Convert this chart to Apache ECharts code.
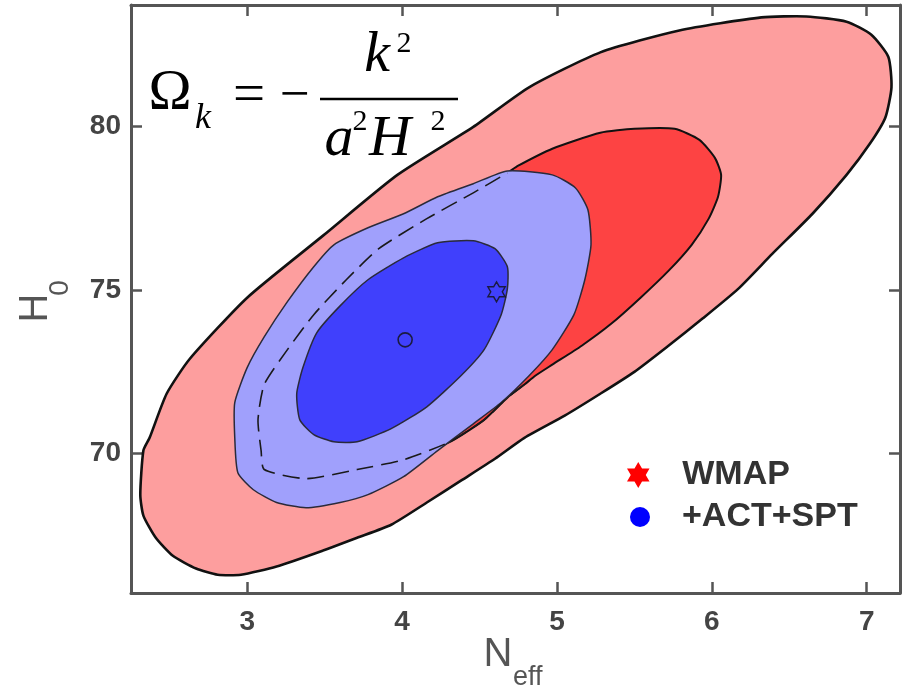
<!DOCTYPE html>
<html><head><meta charset="utf-8">
<script src="https://cdn.jsdelivr.net/npm/echarts@6/dist/echarts.min.js"></script>
<style>html,body{margin:0;padding:0;background:#fff}#c{width:904px;height:688px}</style>
</head><body><div id="c"></div>
<script>
// ---- data (N_eff, H0) ----
const xTickValues = [3, 4, 5, 6, 7];
const yTickValues = [70, 75, 80];
const xExtent = [2.25, 7.215];
const yExtent = [65.72, 83.72];

// WMAP 95% contour (outer pink)
const wmap2Sigma = [
  [2.33,70.08],[2.37,70.47],[2.48,71.82],[2.63,72.89],[3.00,74.76],[3.49,76.66],[3.97,78.52],
  [4.46,79.99],[4.82,81.20],[5.28,82.27],[5.79,82.94],[6.32,83.34],[6.61,83.37],[6.87,83.21],
  [7.03,82.81],[7.14,82.13],[7.16,81.20],[7.12,80.27],[7.02,79.47],[6.87,78.52],[6.65,77.33],
  [6.39,76.10],[6.17,75.03],[5.94,74.12],[5.72,73.29],[5.50,72.49],[5.28,71.82],[5.05,71.15],
  [4.79,70.47],[4.60,69.83],[4.38,69.16],[4.16,68.49],[3.93,67.81],[3.71,67.41],[3.49,67.02],
  [3.19,66.53],[2.96,66.28],[2.81,66.28],[2.67,66.47],[2.52,66.86],[2.41,67.41],[2.33,68.09],
  [2.31,68.73]
];
// WMAP 68% contour (red); points from index 17 on lie under the ACT+SPT region (dashed)
const wmap1Sigma = [
  [4.75,78.80],[4.97,79.32],[5.28,79.81],[5.50,79.93],[5.76,79.93],[5.92,79.59],[6.02,79.04],
  [6.06,78.52],[6.04,77.85],[5.98,77.18],[5.87,76.38],[5.72,75.58],[5.54,74.76],[5.35,73.96],
  [5.16,73.29],[4.97,72.71],[4.86,72.37],
  [4.79,72.10],[4.68,71.70],[4.53,71.02],[4.31,70.35],[4.01,69.80],[3.71,69.50],[3.38,69.22],
  [3.11,69.50],[3.09,70.08],[3.07,71.02],[3.11,72.10],[3.26,73.17],[3.43,74.24],[3.64,75.31],
  [3.85,76.26],[4.16,77.18],[4.46,77.97],[4.68,78.58]
];
const hiddenStart = 17;
// WMAP+ACT+SPT 95% contour (light blue)
const act2Sigma = [
  [4.68,78.64],[4.97,78.52],[5.12,78.12],[5.20,77.45],[5.22,76.38],[5.18,75.31],[5.11,74.24],
  [4.97,73.17],[4.82,72.37],[4.64,71.55],[4.46,70.90],[4.23,70.08],[4.01,69.28],[3.78,68.73],
  [3.60,68.49],[3.38,68.33],[3.19,68.49],[3.04,68.88],[2.94,69.40],[2.92,70.47],[2.92,71.55],
  [3.00,72.62],[3.11,73.56],[3.26,74.64],[3.43,75.71],[3.56,76.38],[3.78,76.90],[4.01,77.33],
  [4.23,77.85],[4.46,78.25]
];
// WMAP+ACT+SPT 68% contour (dark blue)
const act1Sigma = [
  [4.46,76.50],[4.60,76.26],[4.68,75.71],[4.68,75.03],[4.64,74.24],[4.53,73.17],[4.38,72.37],
  [4.16,71.42],[3.93,70.75],[3.71,70.35],[3.56,70.35],[3.43,70.57],[3.34,71.02],[3.32,71.82],
  [3.36,72.62],[3.45,73.69],[3.60,74.51],[3.78,75.31],[4.01,75.98],[4.23,76.44]
];
const wmapBest = [[4.61, 74.94]];
const actBest = [[4.02, 73.47]];

// ---- chart ----
const hexPath = 'path://M0,-10 L2.887,-5 L8.660,-5 L5.774,0 L8.660,5 L2.887,5 L0,10 L-2.887,5 L-8.660,5 L-5.774,0 L-8.660,-5 L-2.887,-5 Z';
const SANS = '"Liberation Sans", Arial, sans-serif';
const NARROW = '"Liberation Sans Narrow", "Liberation Sans", Arial, sans-serif';
const SERIF = '"Liberation Serif", "Times New Roman", serif';

function polygonSeries(name, pts, fill, stroke, lw) {
  return {
    type: 'custom', name: name, coordinateSystem: 'cartesian2d', silent: true,
    data: [pts[0]],
    renderItem: function (params, api) {
      return { type: 'polygon',
        shape: { points: pts.map(p => api.coord(p)), smooth: 0.2 },
        style: { fill: fill, stroke: stroke, lineWidth: lw } };
    }
  };
}
function dashedSeries(name, pts) {
  return {
    type: 'custom', name: name, coordinateSystem: 'cartesian2d', silent: true,
    data: [pts[0]],
    renderItem: function (params, api) {
      return { type: 'polyline',
        shape: { points: pts.map(p => api.coord(p)), smooth: 0.2 },
        style: { fill: null, stroke: '#1a1a1a', lineWidth: 1.6, lineDash: [17, 8] } };
    }
  };
}

const axisLine = { show: true, lineStyle: { color: '#555', width: 3 } };
const axisTick = { show: true, inside: true, length: 11, lineStyle: { color: '#555', width: 2.5 } };
const labelStyle = { fontSize: 28, fontWeight: 'bold', color: '#444', fontFamily: SANS };

function xAxisCfg(pos, showLabel) {
  return { type: 'value', position: pos, min: xExtent[0], max: xExtent[1], splitNumber: 5,
    minInterval: 1, maxInterval: 1, splitLine: { show: false }, axisLine: axisLine, axisTick: axisTick,
    axisLabel: Object.assign({ show: showLabel, margin: 15, showMinLabel: false, showMaxLabel: false,
      formatter: v => xTickValues.includes(v) ? String(v) : '' }, labelStyle) };
}
function yAxisCfg(pos, showLabel) {
  return { type: 'value', position: pos, min: yExtent[0], max: yExtent[1], splitNumber: 3,
    minInterval: 5, maxInterval: 5, splitLine: { show: false }, axisLine: axisLine, axisTick: axisTick,
    axisLabel: Object.assign({ show: showLabel, margin: 10, showMinLabel: false, showMaxLabel: false,
      formatter: v => yTickValues.includes(v) ? String(v) : '' }, labelStyle) };
}

function txt(text, x, y, size, opts) {
  return Object.assign({ type: 'text', x: x, y: y, silent: true,
    style: Object.assign({ text: text, fontSize: size, fontFamily: SERIF, fill: '#000',
      align: 'center', verticalAlign: 'middle' }, (opts && opts.style) || {}) },
    (opts && opts.el) || {});
}

const chart = echarts.init(document.getElementById('c'), null, { renderer: 'canvas' });
chart.setOption({
  animation: false,
  backgroundColor: '#fff',
  grid: { left: 131, right: 4, top: 5, bottom: 95, containLabel: false },
  xAxis: [xAxisCfg('bottom', true), xAxisCfg('top', false)],
  yAxis: [yAxisCfg('left', true), yAxisCfg('right', false)],
  legend: [
    { data: [{ name: 'WMAP', icon: hexPath, itemStyle: { color: '#ff0000', borderColor: '#ff0000', borderWidth: 0, opacity: 1 } }],
      left: 622, top: 453, itemWidth: 26, itemHeight: 26, selectedMode: false,
      textStyle: { fontSize: 34, fontWeight: 'bold', color: '#333', fontFamily: SANS, padding: [0, 0, 0, 26] } },
    { data: [{ name: '+ACT+SPT', icon: 'circle', itemStyle: { color: '#0000ff', borderColor: '#0000ff', borderWidth: 0, opacity: 1 } }],
      left: 625, top: 495, itemWidth: 20, itemHeight: 20, selectedMode: false,
      textStyle: { fontSize: 34, fontWeight: 'bold', color: '#333', fontFamily: SANS, padding: [0, 0, 0, 27] } }
  ],
  series: [
    polygonSeries('WMAP 95%', wmap2Sigma, '#fd9e9e', '#111', 2.6),
    polygonSeries('WMAP 68%', wmap1Sigma, '#fd4343', '#111', 2.0),
    polygonSeries('ACT 95%', act2Sigma, '#a0a0fc', '#2a2a3a', 1.5),
    polygonSeries('ACT 68%', act1Sigma, '#4040fc', '#2a2a3a', 1.5),
    dashedSeries('WMAP 68% hidden', wmap1Sigma.slice(hiddenStart)),
    { type: 'scatter', name: 'WMAP', data: wmapBest, symbol: hexPath, symbolSize: 20, symbolKeepAspect: true,
      itemStyle: { color: 'rgba(0,0,0,0)', borderColor: '#111', borderWidth: 1.4 }, silent: true, z: 5 },
    { type: 'scatter', name: '+ACT+SPT', data: actBest, symbol: 'circle', symbolSize: 14,
      itemStyle: { color: 'rgba(0,0,0,0)', borderColor: '#111', borderWidth: 1.6 }, silent: true, z: 5 }
  ],
  graphic: [
    // axis titles
    txt('N', 498, 655, 40, { style: { fontFamily: NARROW, fill: '#555' } }),
    txt('eff', 513, 678, 27, { style: { fontFamily: NARROW, fill: '#555', align: 'left' } }),
    txt('H', 36, 308, 40, { style: { fontFamily: NARROW, fill: '#555' }, el: { rotation: Math.PI / 2 } }),
    txt('0', 60, 288, 28, { style: { fontFamily: NARROW, fill: '#555' }, el: { rotation: Math.PI / 2 } }),
    // formula  Ω_k = − k² / (a² H²)
    txt('\u03A9', 170, 94, 58),
    txt('k', 203, 119, 36, { style: { fontStyle: 'italic' } }),
    txt('=', 249, 97, 57),
    txt('\u2212', 295, 97, 53),
    { type: 'line', silent: true, shape: { x1: 320, y1: 99, x2: 458, y2: 99 }, style: { stroke: '#000', lineWidth: 2.5 } },
    txt('k', 377, 56, 58, { style: { fontStyle: 'italic' } }),
    txt('2', 404, 44, 30),
    txt('a', 339, 140, 58, { style: { fontStyle: 'italic' } }),
    txt('2', 360, 122, 30),
    txt('H', 390, 140, 58, { style: { fontStyle: 'italic' } }),
    txt('2', 438, 122, 30)
  ]
});
</script>
</body></html>
